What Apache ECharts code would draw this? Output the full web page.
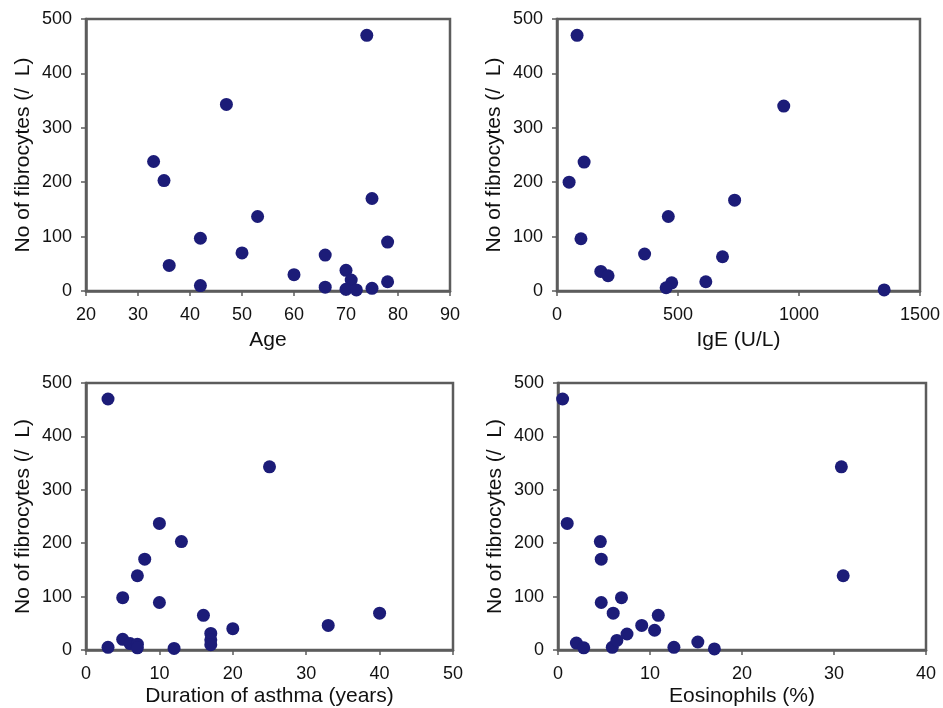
<!DOCTYPE html>
<html>
<head>
<meta charset="utf-8">
<script src="https://cdn.jsdelivr.net/npm/echarts@6/dist/echarts.min.js"></script>
<style>
  html, body { margin: 0; padding: 0; background: #fff; }
  #main { width: 943px; height: 708px; }
</style>
</head>
<body>
<div id="main"></div>
<script>
// fibrocytes vs age
var agePoints = [
	[74, 470], [47, 343], [33, 238], [35, 203], [75, 170], [53, 137], [42, 97],
	[78, 90], [50, 70], [36, 47], [66, 66], [60, 30], [70, 38], [71, 20],
	[42, 10], [66, 7], [70, 3], [72, 2], [75, 5], [78, 17]
];
// fibrocytes vs IgE
var igePoints = [
	[83, 470], [937, 340], [50, 200], [112, 237], [99, 96], [460, 137], [734, 167],
	[362, 68], [684, 63], [181, 36], [211, 28], [615, 17], [474, 15], [451, 6],
	[1352, 2]
];
// fibrocytes vs duration of asthma
var durationPoints = [
	[3, 470], [25, 343], [10, 237], [13, 203], [8, 170], [7, 139], [5, 98],
	[10, 89], [16, 65], [40, 69], [33, 46], [20, 40], [17, 31], [17, 19],
	[17, 10], [3, 5], [5, 20], [6, 12], [7, 11], [7, 4], [12, 3]
];
// fibrocytes vs eosinophils
var eosPoints = [
	[0.5, 470], [1, 237], [4.6, 203], [4.7, 170], [4.7, 89], [6.9, 98], [6, 69],
	[30.8, 343], [31, 139], [10.9, 65], [9.1, 46], [10.5, 37], [7.5, 30], [2, 13],
	[2.8, 4], [5.9, 5], [6.4, 18], [12.6, 5], [15.2, 15], [17, 2]
];

var xNames = ['Age', 'IgE (U/L)', 'Duration of asthma (years)', 'Eosinophils (%)'];
var xRanges = [[20, 90, 10], [0, 1500, 500], [0, 50, 10], [0, 40, 10]];
var yName = 'No of fibrocytes (/  L)';
var yRange = [0, 500, 100];

var font = 'Liberation Sans, Arial, sans-serif';
var frameColor = '#5c5c5c';
var dotColor = '#1c1c78';

var grids = [
	{ left: 86, top: 19, width: 364, height: 272 },
	{ left: 557, top: 19, width: 365, height: 272 },
	{ left: 86, top: 383, width: 367, height: 267 },
	{ left: 558, top: 383, width: 368, height: 267 }
];
var nameGaps = [39, 39, 36, 36];
var allData = [agePoints, igePoints, durationPoints, eosPoints];

function plain(v) { return String(v); }

var xAxes = [], yAxes = [], series = [];
for (var i = 0; i < 4; i++) {
	grids[i].show = true;
	grids[i].borderColor = frameColor;
	grids[i].borderWidth = 2.5;
	xAxes.push({
		gridIndex: i,
		type: 'value',
		min: xRanges[i][0],
		max: xRanges[i][1],
		interval: xRanges[i][2],
		name: xNames[i],
		nameLocation: 'middle',
		nameGap: nameGaps[i],
		nameTextStyle: { fontFamily: font, fontSize: 21, color: '#111' },
		axisLine: { lineStyle: { color: frameColor, width: 2.5 } },
		axisTick: { show: true, inside: false, length: 5, lineStyle: { color: frameColor, width: 1.5 } },
		axisLabel: { fontFamily: font, fontSize: 18, color: '#111', margin: 15, formatter: plain },
		splitLine: { show: false }
	});
	yAxes.push({
		gridIndex: i,
		type: 'value',
		min: yRange[0],
		max: yRange[1],
		interval: yRange[2],
		name: yName,
		nameLocation: 'middle',
		nameGap: 52,
		nameTextStyle: { fontFamily: font, fontSize: 21, color: '#111' },
		axisLine: { lineStyle: { color: frameColor, width: 2.5 } },
		axisTick: { show: true, inside: false, length: 5, lineStyle: { color: frameColor, width: 1.5 } },
		axisLabel: { fontFamily: font, fontSize: 18, color: '#111', margin: 14, formatter: plain },
		splitLine: { show: false }
	});
	series.push({
		type: 'scatter',
		xAxisIndex: i,
		yAxisIndex: i,
		symbolSize: 13,
		itemStyle: { color: dotColor, opacity: 1 },
		data: allData[i]
	});
}

var chart = echarts.init(document.getElementById('main'));
chart.setOption({
	backgroundColor: '#fff',
	animation: false,
	grid: grids,
	xAxis: xAxes,
	yAxis: yAxes,
	series: series
});
</script>
</body>
</html>
